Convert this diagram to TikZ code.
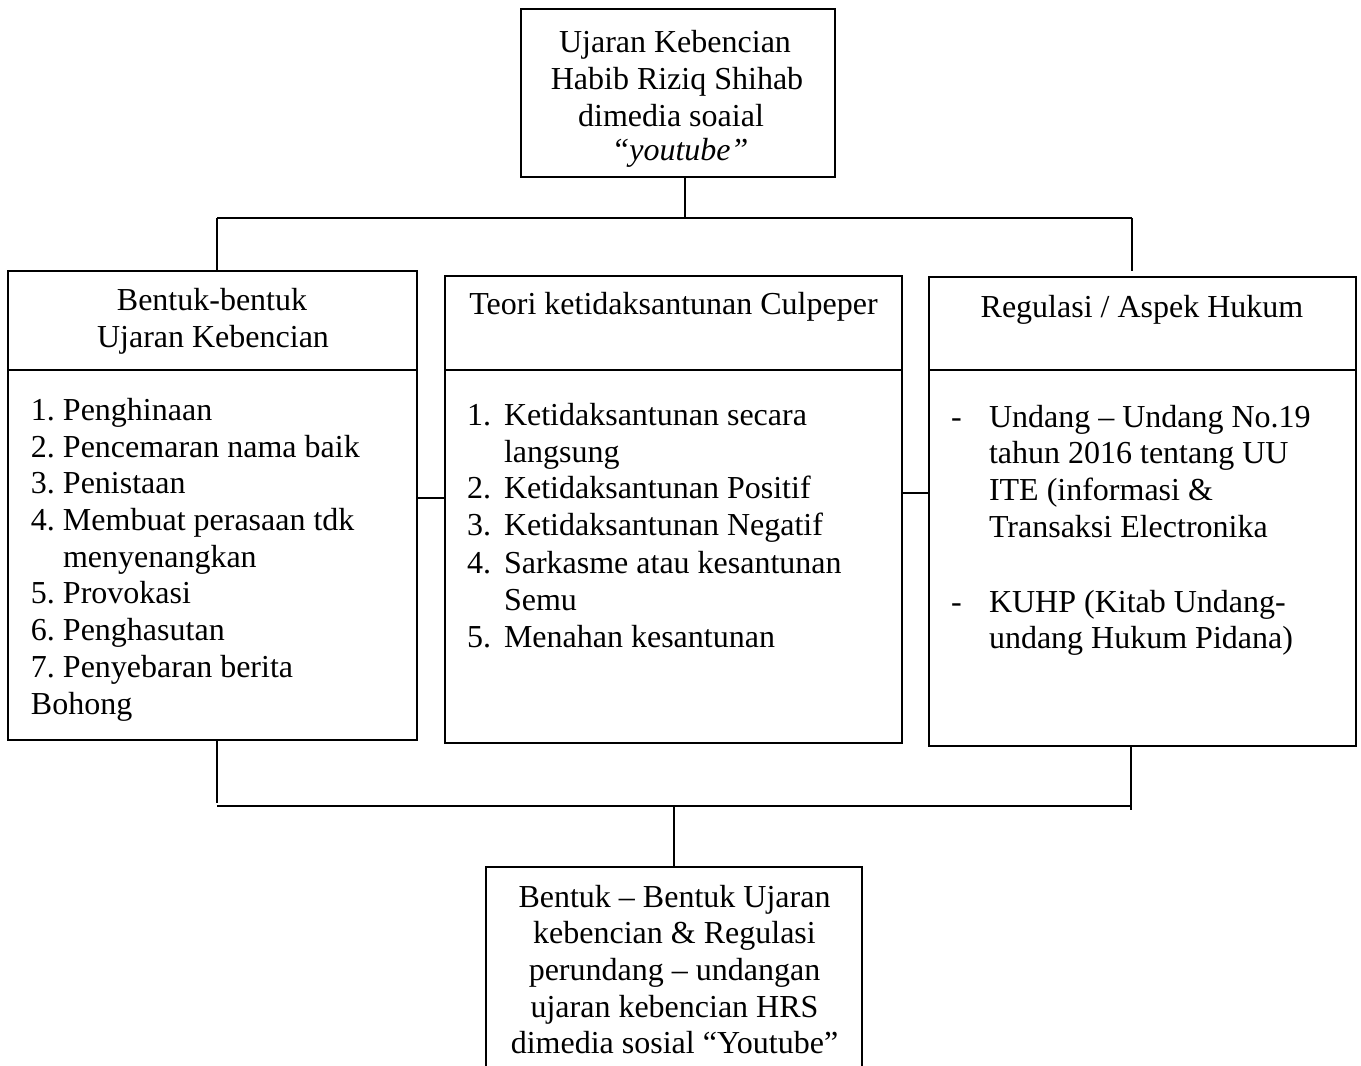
\documentclass[tikz,border=0pt]{standalone}
\usepackage{fontspec}
\setmainfont{Liberation Serif}
\frenchspacing
\begin{document}
\begin{tikzpicture}[x=0.5pt,y=-0.5pt,line width=1pt,
  box/.style={draw,line width=1pt,inner sep=0pt,rectangle},
  txt/.style={inner sep=0pt,anchor=base west,font=\fontsize{16}{18.5}\selectfont\frenchspacing},
  ctxt/.style={txt,anchor=base}]
\useasboundingbox (0,0) rectangle (1361,1066);
\clip (0,0) rectangle (1361,1066);

% boxes
\node[box,minimum width=157pt,minimum height=84pt] (top) at (678,93) {};
\node[box,minimum width=204.5pt,minimum height=234.5pt] (bl) at (212.5,505.5) {};
\node[box,minimum width=228.5pt,minimum height=233.5pt] (bm) at (673.5,509.5) {};
\node[box,minimum width=213.5pt,minimum height=234.5pt] (br) at (1142.5,511.5) {};
\node[box,minimum width=188pt,minimum height=106.5pt] (bot) at (674,973.5) {};

% dividers
\draw (bl.west |- 0,370) -- (bl.east |- 0,370);
\draw (bm.west |- 0,370) -- (bm.east |- 0,370);
\draw (br.west |- 0,370) -- (br.east |- 0,370);

% connectors top
\coordinate (jt) at (685,218);
\coordinate (jl) at (217,218);
\coordinate (jr) at (1132,218);
\coordinate (jre) at (1132,271);
\draw (top.south -| jt) -- (jt);
\draw (jl) -- (jr);
\draw (jl) -- (bl.north -| jl);
\draw (jr) -- (jre);

% side connectors
\draw (bl.east |- 0,498) -- (bm.west |- 0,498);
\draw (bm.east |- 0,493) -- (br.west |- 0,493);

% connectors bottom
\coordinate (kl) at (217,806);
\coordinate (kle) at (217,803);
\coordinate (kr) at (1131,806);
\coordinate (kre) at (1131,810);
\coordinate (kc) at (674,806);
\draw (bl.south -| kl) -- (kle);
\draw (kl) -- (kr);
\draw (br.south -| kr) -- (kre);
\draw (kc) -- (bot.north -| kc);

% top box text
\node[ctxt] (t1) at (675,52) {Ujaran Kebencian};
\node[ctxt] (t2) at (677,89) {Habib Riziq Shihab};
\node[ctxt] (t3) at (671,126) {dimedia soaial};
\node[ctxt] (t4) at (680,160) {\textit{“youtube”}};

% left box
\node[ctxt] (lt1) at (212,310) {Bentuk-bentuk};
\node[ctxt] (lt2) at (213,347) {Ujaran Kebencian};
\foreach \x/\y/\t [count=\i] in {
  30/420/{1. Penghinaan},
  30/457/{2. Pencemaran nama baik},
  30/493/{3. Penistaan},
  30/530/{4. Membuat perasaan tdk},
  62/567/{menyenangkan},
  30/603/{5. Provokasi},
  30/640/{6. Penghasutan},
  30/677/{7. Penyebaran berita},
  30/714/{Bohong}}
  \node[txt] (L\i) at (\x,\y) {\t};

% middle box
\node[ctxt] (mt) at (673.5,314) {Teori ketidaksantunan Culpeper};
\foreach \y/\n [count=\i] in {425/1., 498/2., 535/3., 573/4., 647/5.}
  \node[txt] (MN\i) at (466,\y) {\n};
\foreach \y/\t [count=\i] in {
  425/{Ketidaksantunan secara},
  462/{langsung},
  498/{Ketidaksantunan Positif},
  535/{Ketidaksantunan Negatif},
  573/{Sarkasme atau kesantunan},
  610/{Semu},
  647/{Menahan kesantunan}}
  \node[txt] (M\i) at (503,\y) {\t};

% right box
\node[ctxt] (rt) at (1142,317) {Regulasi / Aspek Hukum};
\node[txt] (RD1) at (950,427) {-};
\node[txt] (RD2) at (950,612) {-};
\foreach \y/\t [count=\i] in {
  427/{Undang – Undang No.19},
  463/{tahun 2016 tentang UU},
  500/{ITE (informasi \&},
  537/{Transaksi Electronika},
  612/{KUHP (Kitab Undang-},
  648/{undang Hukum Pidana)}}
  \node[txt] (R\i) at (988,\y) {\t};

% bottom box
\foreach \y/\t [count=\i] in {
  907/{Bentuk – Bentuk Ujaran},
  943/{kebencian \& Regulasi},
  980/{perundang – undangan},
  1017/{ujaran kebencian HRS},
  1053/{dimedia sosial “Youtube”}}
  \node[ctxt] (B\i) at (674.5,\y) {\t};
\end{tikzpicture}
\end{document}
